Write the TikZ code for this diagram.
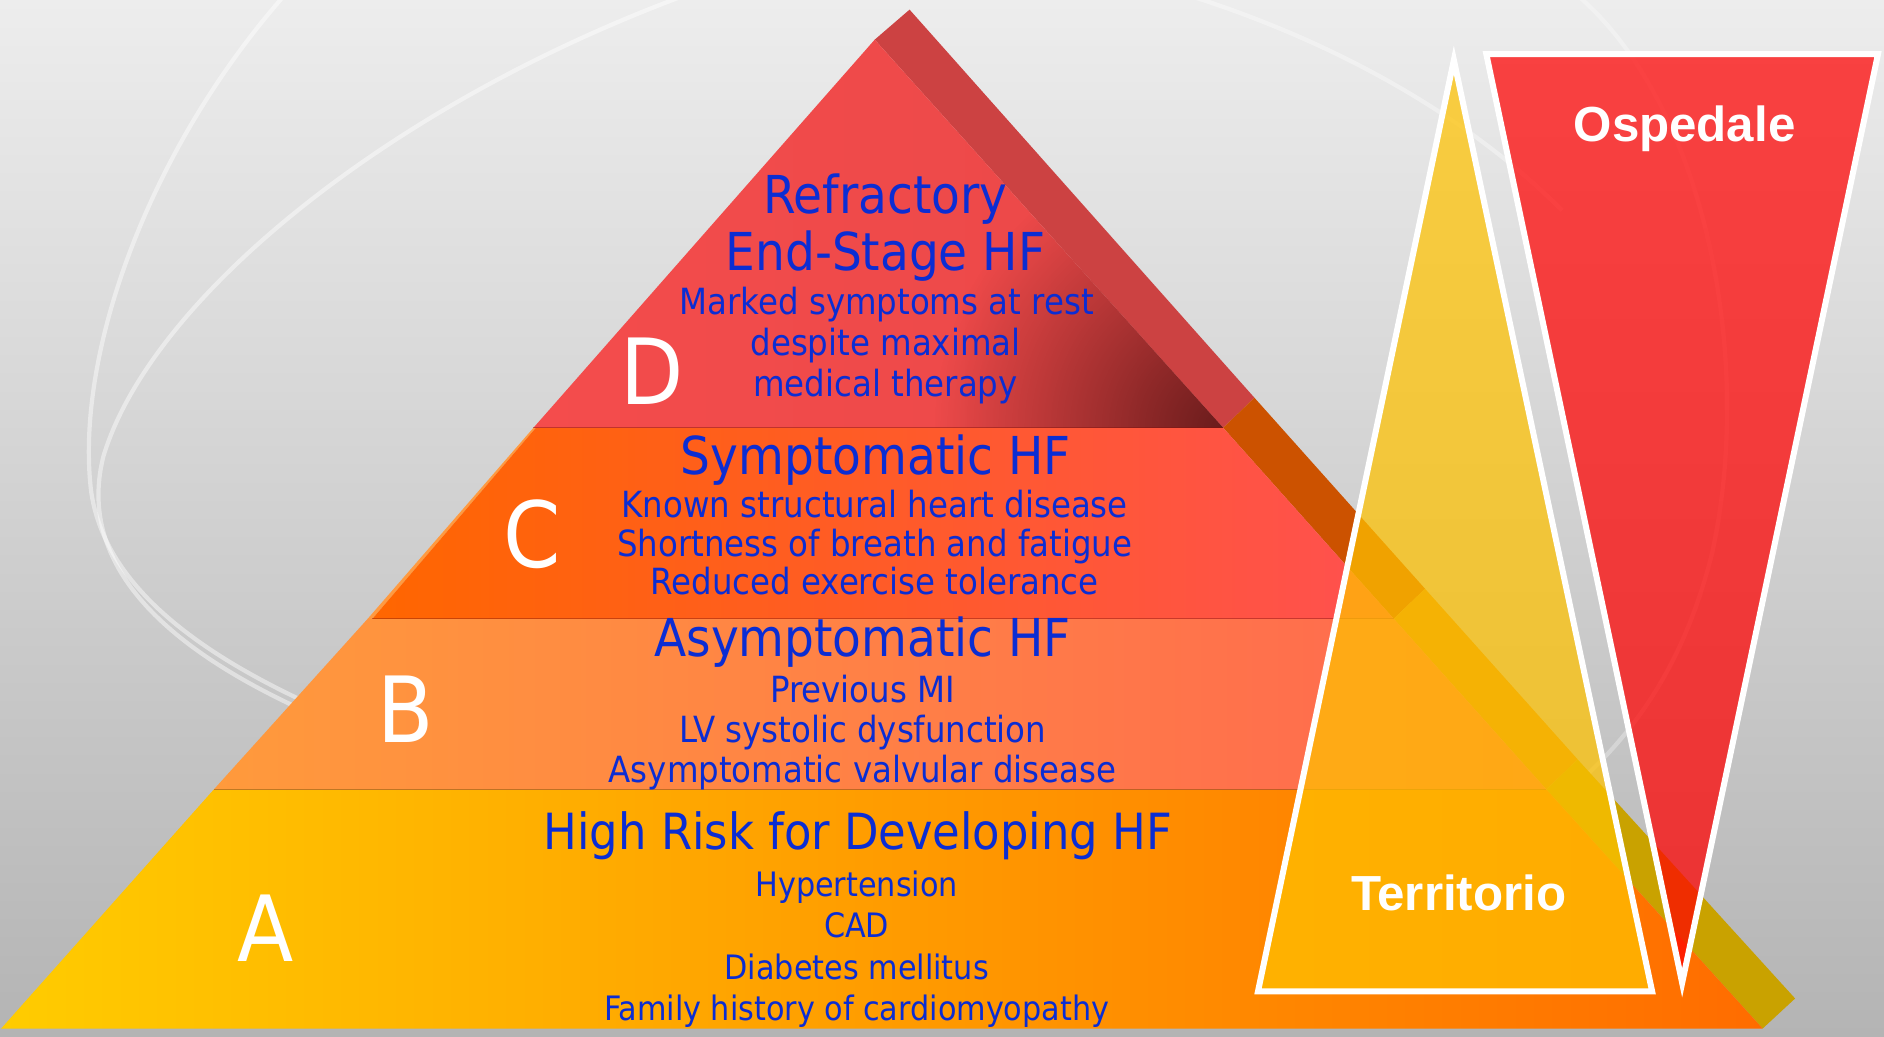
\documentclass[tikz,border=0pt]{standalone}
\usepackage{fontspec}
\usepackage{graphicx}
\usetikzlibrary{fadings}
\newfontfamily\condfont{DejaVu Sans Condensed}
\newfontfamily\boldsans{Liberation Sans}[BoldFont={* Bold}]
\definecolor{bgtop}{HTML}{EDEDED}
\definecolor{bgbot}{HTML}{B4B4B4}
\definecolor{txtblue}{HTML}{0B2DD3}
\definecolor{dA}{HTML}{F44C4C}
\definecolor{dB}{HTML}{EA4848}
\definecolor{dDark}{HTML}{6A1C1C}
\definecolor{cA}{HTML}{FF6600}
\definecolor{cB}{HTML}{FF5050}
\definecolor{bA}{HTML}{FF9A3C}
\definecolor{bB}{HTML}{FF6650}
\definecolor{aA}{HTML}{FFCC00}
\definecolor{aM}{HTML}{FFB400}
\definecolor{aB}{HTML}{FF6C00}
\definecolor{sideD}{HTML}{CC4242}
\definecolor{sideC}{HTML}{CC5200}
\definecolor{sideB}{HTML}{DD8A10}
\definecolor{sideA}{HTML}{C9A200}
\definecolor{sliver}{HTML}{FF9A40}
\definecolor{terrfill}{HTML}{FFC200}
\definecolor{ospfill}{HTML}{FF0000}
\tikzfading[name=cornerfade, inner color=transparent!0, outer color=transparent!100]
\tikzset{
  sub/.style={font=\condfont\fontsize{30}{30}\selectfont, text=txtblue, anchor=base, inner sep=0pt},
  suba/.style={font=\condfont\fontsize{28}{28}\selectfont, text=txtblue, anchor=base, inner sep=0pt},
  ttl/.style={font=\condfont\fontsize{43.5}{43.5}\selectfont, text=txtblue, anchor=base, inner sep=0pt},
  ttla/.style={font=\condfont\fontsize{41.5}{41.5}\selectfont, text=txtblue, anchor=base, inner sep=0pt},
  big/.style={font=\condfont\fontsize{76}{76}\selectfont, text=white, anchor=base, inner sep=0pt},
  care/.style={font=\boldsans\bfseries\fontsize{41}{41}\selectfont, text=white, anchor=base, inner sep=0pt},
  ring/.style={draw=white, opacity=0.45, line width=3.5pt},
  sep/.style={draw=black!60!red, opacity=0.35, line width=1pt}
}
\begin{document}
\begin{tikzpicture}[x=1pt,y=-1pt]
\useasboundingbox (0,0) rectangle (1568,863);
% background
\shade[top color=bgtop, bottom color=bgbot] (0,0) rectangle (1568,863);
\begin{scope}
\clip (0,0) rectangle (1568,863);
\draw[ring] (235,-2) .. controls (120,130) and (62,300) .. (76,410) .. controls (88,490) and (170,550) .. (290,600);
\draw[ring] (565,-2) .. controls (320,90) and (125,250) .. (86,380) .. controls (66,460) and (120,530) .. (250,590);
\draw[ring, opacity=0.35] (995,-2) .. controls (1110,35) and (1220,95) .. (1300,175);
\draw[ring, opacity=0.3] (1315,-2) .. controls (1420,90) and (1460,300) .. (1425,460) .. controls (1395,580) and (1335,640) .. (1265,690);
\end{scope}
% coordinates of the pyramid
\coordinate (P0) at (728,33);
\coordinate (Q0) at (757,8);
\coordinate (DL) at (444,356);
\coordinate (DR) at (1018,356);
\coordinate (DRo) at (1044,331);
\coordinate (CLt) at (446,356);
\coordinate (CL) at (310,515);
\coordinate (CR) at (1160,515);
\coordinate (CRo) at (1186,490);
\coordinate (BLt) at (306,515);
\coordinate (BL) at (178,657);
\coordinate (BR) at (1287,657);
\coordinate (BRo) at (1313,632);
\coordinate (AL) at (1,856);
\coordinate (AR) at (1467,856);
\coordinate (ARo) at (1494,831);
% side faces
\fill[sideD] (P0) -- (Q0) -- (DRo) -- (DR) -- cycle;
\fill[sideC] (DR) -- (DRo) -- (CRo) -- (CR) -- cycle;
\fill[sideB] (CR) -- (CRo) -- (BRo) -- (BR) -- cycle;
\fill[sideA] (BR) -- (BRo) -- (ARo) -- (AR) -- cycle;
% front faces
\shade[left color=dA, right color=dB] (P0) -- (DR) -- (DL) -- cycle;
\begin{scope}
\clip (P0) -- (DR) -- (DL) -- cycle;
\fill[dDark, path fading=cornerfade] (1018,356) circle (240);
\end{scope}
\fill[sliver] (DL) -- (BLt) -- (CL) -- (CLt) -- cycle;
\shade[left color=cA, right color=cB] (CLt) -- (DR) -- (CR) -- (CL) -- cycle;
\shade[left color=bA, right color=bB] (BLt) -- (CR) -- (BR) -- (BL) -- cycle;
\shade[left color=aA, middle color=aM, right color=aB] (BL) -- (BR) -- (AR) -- (AL) -- cycle;
\draw[sep] (DL) -- (DR);
\draw[sep] (CL) -- (CR);
\draw[sep] (BL) -- (BR);
% texts D
\node[big] (lD) at (543,337) {D};
\node[ttl] (d1) at (737,178) {Refractory};
\node[ttl] (d2) at (737,225) {End-Stage HF};
\node[sub] (d3) at (738,262) {Marked symptoms at rest};
\node[sub] (d4) at (737,296) {despite maximal};
\node[sub] (d5) at (737,330) {medical therapy};
% texts C
\node[big] (lC) at (443,472) {C};
\node[ttl] (c1) at (729,395) {Symptomatic HF};
\node[sub] (c2) at (728,431) {Known structural heart disease};
\node[sub] (c3) at (728,463) {Shortness of breath and fatigue};
\node[sub] (c4) at (728,495) {Reduced exercise tolerance};
% texts B
\node[big] (lB) at (338,618) {B};
\node[ttl] (b1) at (718,546) {Asymptomatic HF};
\node[sub] (b2) at (718,585) {Previous MI};
\node[sub] (b3) at (718,618) {LV systolic dysfunction};
\node[sub] (b4) at (718,651) {Asymptomatic valvular disease};
% texts A
\node[big] (lA) at (221,800) {A};
\node[ttla] (a1) at (714,707) {High Risk for Developing HF};
\node[suba] (a2) at (713,746) {Hypertension};
\node[suba] (a3) at (713,780) {CAD};
\node[suba] (a4) at (713,815) {Diabetes mellitus};
\node[suba] (a5) at (713,849) {Family history of cardiomyopathy};
% Territorio and Ospedale
\filldraw[fill=terrfill, fill opacity=0.72, draw=white, line width=5pt, line join=miter]
  (1210,50) -- (1375,825) -- (1047,825) -- cycle;
\filldraw[fill=ospfill, fill opacity=0.72, draw=white, line width=5pt, line join=miter]
  (1237,45) -- (1563,45) -- (1400,818) -- cycle;
\node[care] (osp) at (1402,118) {Ospedale};
\node[care] (ter) at (1214,758) {Territorio};
\end{tikzpicture}
\end{document}
